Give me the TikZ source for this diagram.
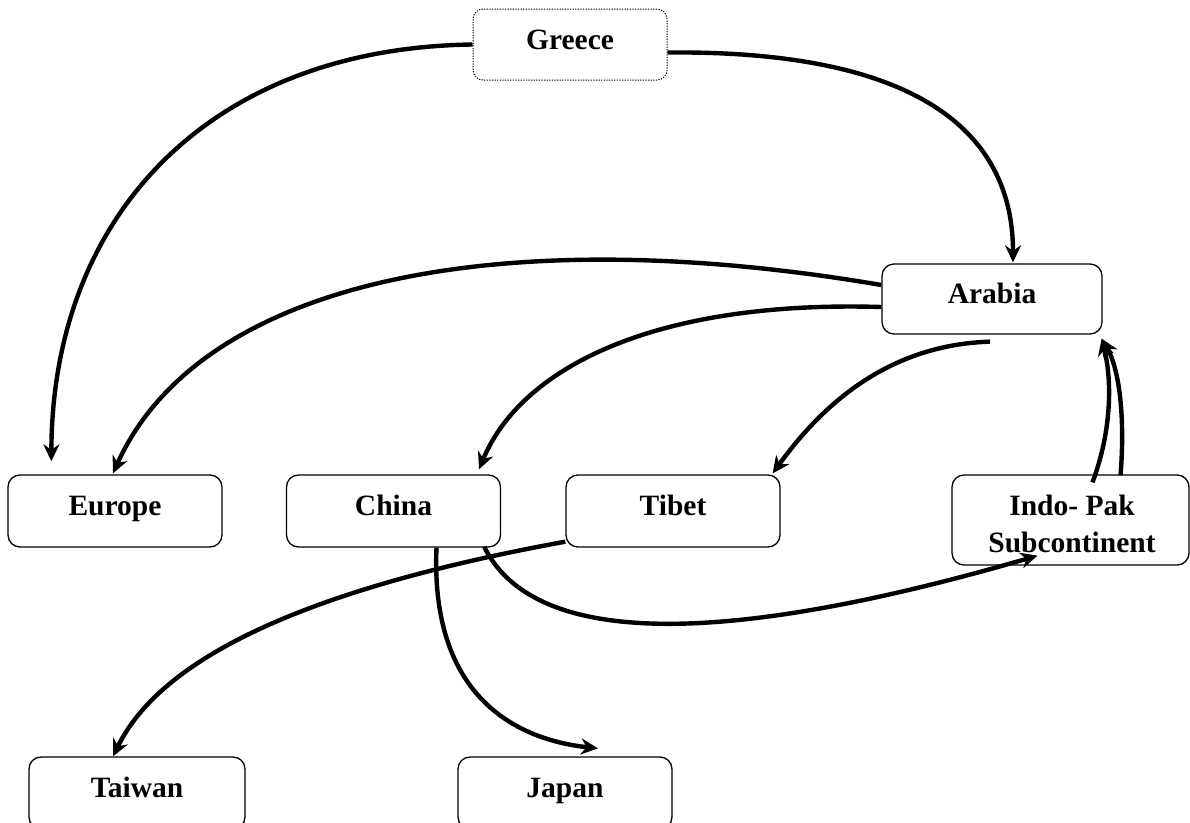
\documentclass[tikz,border=0pt]{standalone}
\usepackage{fontspec}
\setmainfont{Liberation Serif}
\usetikzlibrary{arrows.meta,calc}
\tikzset{
  box/.style={draw, line width=1.3pt, rounded corners=12pt, inner sep=0pt,
    minimum height=72pt, text height=23pt, text depth=14pt,
    font=\fontsize{29.5}{37}\selectfont\bfseries},
  dotbox/.style={box, dash pattern=on 1.3pt off 1.3pt, line width=1pt, rounded corners=10pt},
  conn/.style={line width=4.4pt, -{Stealth[length=17pt,width=16pt,inset=5.5pt]}},
  lbl/.style={align=center, inner sep=0pt, font=\fontsize{29.5}{37}\selectfont\bfseries}
}
\begin{document}
\begin{tikzpicture}[x=1pt,y=-1pt]
\useasboundingbox (0,0) rectangle (1190,822);
\fill[white] (0,0) rectangle (1190,822);
% nodes
\node[dotbox, minimum width=194pt, minimum height=71pt] (greece) at (570,44.5) {Greece};
\node[box, minimum width=220pt, minimum height=70pt] (arabia) at (992,299) {Arabia};
\node[box, minimum width=214pt] (europe) at (115,511) {Europe};
\node[box, minimum width=214pt] (china) at (393.5,511) {China};
\node[box, minimum width=214pt] (tibet) at (673,511) {Tibet};
\node[box, minimum width=237pt, minimum height=90pt] (indopak) at (1070.5,520) {};
\node[lbl] (indopaktext) at (1072,524) {Indo- Pak\\Subcontinent};
\node[box, minimum width=216pt] (taiwan) at (137,793) {Taiwan};
\node[box, minimum width=214pt] (japan) at (565,793) {Japan};
% connectors
\draw[conn] (greece.west) .. controls (210,48) and (52,215) .. ($(europe.north west)+(44,-13)$);
\draw[conn] ($(greece.east)+(0,8)$) .. controls (930,50) and (1013,140) .. ($(arabia.north)+(21,-1)$);
\draw[conn] ($(arabia.west)+(0,-14)$) .. controls (500,220) and (200,280) .. ($(europe.north)+(-2,-1)$);
\draw[conn] ($(arabia.west)+(0,8)$) .. controls (650,300) and (520,370) .. ($(china.north)+(85.5,-5)$);
\draw[conn] ($(arabia.south)+(-2,7)$) .. controls (880,345) and (815,415) .. ($(tibet.north east)+(-8,-1)$);
\draw[conn] ($(indopak.north)+(22,8)$) .. controls (1112,430) and (1112,380) .. ($(arabia.south east)+(-1,4)$);
\draw[conn] ($(indopak.north)+(50,1)$) .. controls (1125,420) and (1120,370) .. ($(arabia.south east)+(-1,4)$);
\draw[conn] ($(china.south east)+(-17,-1)$) .. controls (535,650) and (730,645) .. ($(indopak.south)+(-33,-10)$);
\draw[conn] ($(tibet.south west)+(0,-6)$) .. controls (300,590) and (160,660) .. ($(taiwan.north)+(-24,0)$);
\draw[conn] ($(china.south)+(43,0)$) .. controls (430,700) and (520,740) .. ($(japan.north)+(33,-8)$);
\end{tikzpicture}
\end{document}
